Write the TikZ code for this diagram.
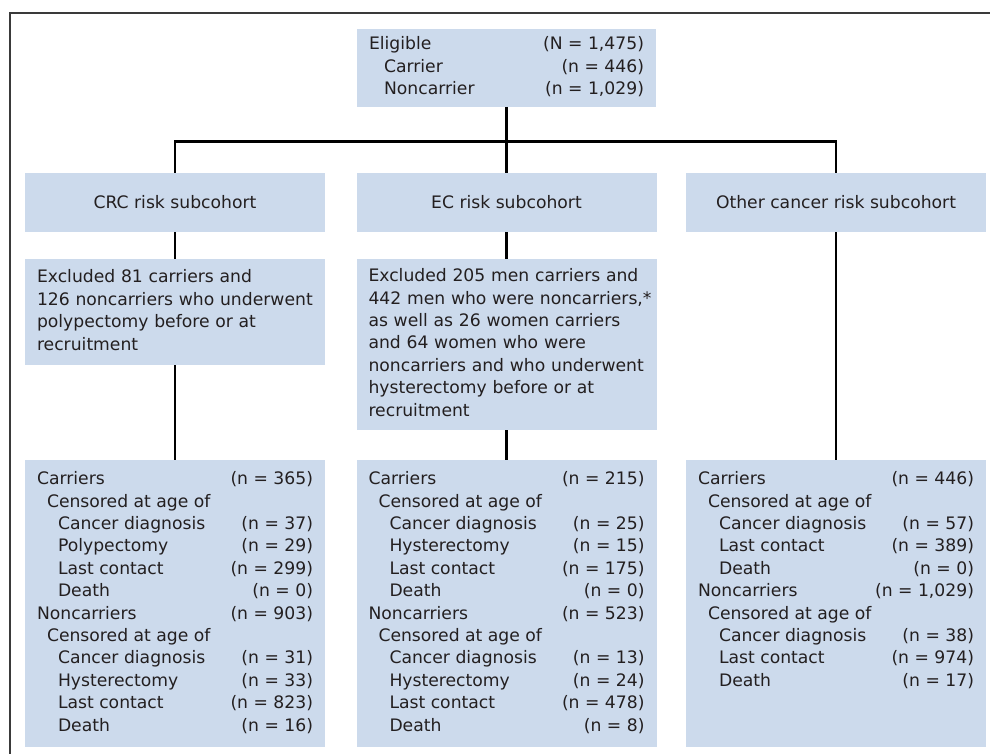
\documentclass[tikz,border=0pt]{standalone}
\usepackage{fontspec}
\setmainfont{DejaVu Sans}
\definecolor{FlowInk}{HTML}{231F20}
\definecolor{FlowBlue}{HTML}{CCDAEC}
\definecolor{FlowFrame}{HTML}{3A3A3A}
\newcommand{\ind}{\hspace*{10pt}}
\newcommand{\indd}{\hspace*{21pt}}
\newenvironment{tally}[1]{\begin{tabular*}{#1}{@{}l@{\extracolsep{\fill}}r@{}}}{\end{tabular*}}
\newenvironment{lines}{\begin{tabular}{@{}l@{}}}{\end{tabular}}
\tikzset{
  every node/.style={font=\fontsize{17.2}{22.4}\selectfont, text=FlowInk},
  box/.style={fill=FlowBlue, inner sep=0pt, minimum width=300pt},
  note/.style={box, align=left, text width=276pt},
  link/.style={draw=black, line width=2.6pt},
  frame/.style={draw=FlowFrame, line width=1.5pt},
}
\begin{document}
\begin{tikzpicture}[x=1pt,y=-1pt]
  \useasboundingbox (0,0) rectangle (990,754);
  % Outer frame, cut off at right and bottom
  \draw[frame] (9.8,754) -- (9.8,13) -- (990,13);
  % Eligible cohort
  \node[box, minimum width=299pt, minimum height=78pt] (elig) at (506.5,67.8) {%
    \begin{tally}{275pt}
    Eligible & (N = 1,475)\\
    \hspace*{15pt}Carrier & (n = 446)\\
    \hspace*{15pt}Noncarrier & (n = 1,029)
    \end{tally}};
  % Subcohorts
  \node[box, minimum height=59pt] (crc) at (175,202.5) {CRC risk subcohort};
  \node[box, minimum height=59pt] (ec) at (506.5,202.5) {EC risk subcohort};
  \node[box, minimum height=59pt] (oth) at (836,202.5) {Other cancer risk subcohort};
  % Exclusions
  \node[note, minimum height=106pt] (crcx) at (175,312) {\begin{lines}
    Excluded 81 carriers and\\
    126 noncarriers who underwent\\
    polypectomy before or at\\
    recruitment
    \end{lines}};
  \node[note, minimum height=171pt] (ecx) at (506.5,344.5) {\begin{lines}
    Excluded 205 men carriers and\\
    442 men who were noncarriers,*\\
    as well as 26 women carriers\\
    and 64 women who were\\
    noncarriers and who underwent\\
    hysterectomy before or at\\
    recruitment
    \end{lines}};
  % Final counts
  \node[box, minimum height=287pt] (crcn) at (175,603.5) {%
    \begin{tally}{276pt}
    Carriers & (n = 365)\\
    \ind Censored at age of & \\
    \indd Cancer diagnosis & (n = 37)\\
    \indd Polypectomy & (n = 29)\\
    \indd Last contact & (n = 299)\\
    \indd Death & (n = 0)\\
    Noncarriers & (n = 903)\\
    \ind Censored at age of & \\
    \indd Cancer diagnosis & (n = 31)\\
    \indd Hysterectomy & (n = 33)\\
    \indd Last contact & (n = 823)\\
    \indd Death & (n = 16)
    \end{tally}};
  \node[box, minimum height=287pt] (ecn) at (506.5,603.5) {%
    \begin{tally}{276pt}
    Carriers & (n = 215)\\
    \ind Censored at age of & \\
    \indd Cancer diagnosis & (n = 25)\\
    \indd Hysterectomy & (n = 15)\\
    \indd Last contact & (n = 175)\\
    \indd Death & (n = 0)\\
    Noncarriers & (n = 523)\\
    \ind Censored at age of & \\
    \indd Cancer diagnosis & (n = 13)\\
    \indd Hysterectomy & (n = 24)\\
    \indd Last contact & (n = 478)\\
    \indd Death & (n = 8)
    \end{tally}};
  \node[box, minimum height=287pt] (othn) at (836,603.5) {%
    \begin{tally}{276pt}
    Carriers & (n = 446)\\
    \ind Censored at age of & \\
    \indd Cancer diagnosis & (n = 57)\\
    \indd Last contact & (n = 389)\\
    \indd Death & (n = 0)\\
    Noncarriers & (n = 1,029)\\
    \ind Censored at age of & \\
    \indd Cancer diagnosis & (n = 38)\\
    \indd Last contact & (n = 974)\\
    \indd Death & (n = 17)\\
    & \\
    &
    \end{tally}};
  % Connectors
  \coordinate (split) at (506.5,141.5);
  \draw[link] (elig) -- (ec);
  \draw[link] (crc.north) |- (split) -| (oth.north);
  \draw[link] (crc) -- (crcx);
  \draw[link] (crcx) -- (crcn);
  \draw[link] (ec) -- (ecx);
  \draw[link] (ecx) -- (ecn);
  \draw[link] (oth) -- (othn);
\end{tikzpicture}
\end{document}
